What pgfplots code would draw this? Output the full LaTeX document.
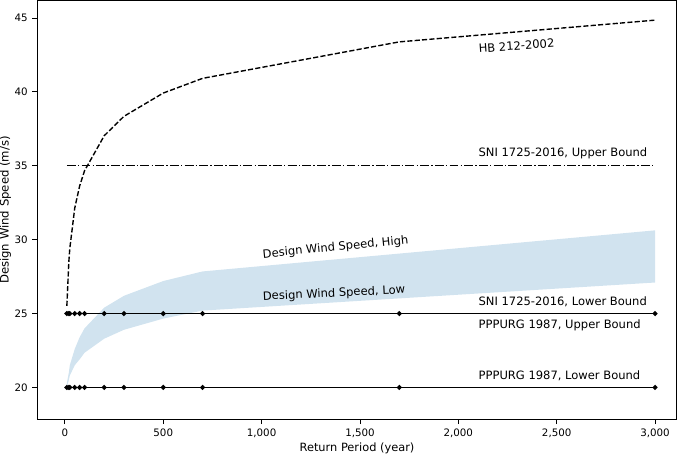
\documentclass[border=0pt]{standalone}
\usepackage{fontspec}
\setmainfont{DejaVu Sans}
\usepackage{pgfplots}
\pgfplotsset{compat=1.18}
\definecolor{band}{RGB}{209,227,239}
\begin{document}
\begin{tikzpicture}
\begin{axis}[
  anchor=south west, at={(0,0)},
  scale only axis, width=460.4pt, height=301.5pt,
  xmin=-140, xmax=3110, ymin=17.84, ymax=46.17,
  xtick={0,500,...,3000}, ytick={20,25,...,45},
  tick align=outside, xtick pos=lower, ytick pos=left,
  major tick length=3.5pt,
  tick style={black, line width=0.6pt},
  axis line style={line width=0.6pt},
  /pgf/number format/assume math mode=true,
  /pgf/number format/1000 sep={,},
  ticklabel style={font=\fontsize{7.4}{8}\selectfont},
  xlabel={Return Period (year)}, ylabel={Design Wind Speed (m/s)},
  xlabel style={font=\fontsize{8.2}{10}\selectfont, at={(axis description cs:0.5,-0.069)}, anchor=center},
  ylabel style={font=\fontsize{8.4}{10}\selectfont, at={(axis description cs:-0.050,0.5)}, anchor=center},
]
% design wind speed band (high edge, then low edge reversed)
\addplot[fill=band, draw=none] coordinates {
  (10,20.3) (20,21.0) (25,21.5) (50,22.6) (75,23.4) (100,24.0) (200,25.4)
  (300,26.2) (500,27.2) (700,27.85) (3000,30.63)
  (3000,27.1) (700,25.2) (500,24.66) (300,23.9) (200,23.3) (100,22.35)
  (75,21.9) (50,21.5) (25,20.8) (20,20.5) (10,20.0)
} -- cycle;
% HB 212-2002
\addplot[black, line width=1pt, dash pattern=on 3.7pt off 1.6pt] coordinates {
  (10,25.518) (20,28.498) (25,29.412) (50,32.131) (75,33.636) (100,34.666)
  (200,37.033) (300,38.343) (500,39.920) (700,40.915) (1700,43.384) (3000,44.854)
};
% SNI upper bound
\addplot[black, line width=1pt, dash pattern=on 6.4pt off 1.6pt on 1pt off 1.6pt] coordinates {
  (10,35) (3000,35)
};
% PPPURG upper bound
\addplot[black, line width=1.2pt] coordinates {
  (10,25) (3000,25)
};
% SNI lower bound
\addplot[black, line width=1.2pt, mark=*, mark size=1.1pt] coordinates {
  (10,25) (20,25) (25,25) (50,25) (75,25) (100,25) (200,25) (300,25)
  (500,25) (700,25) (1700,25) (3000,25)
};
% PPPURG lower bound
\addplot[black, line width=1.2pt, mark=*, mark size=1.1pt] coordinates {
  (10,20) (20,20) (25,20) (50,20) (75,20) (100,20) (200,20) (300,20)
  (500,20) (700,20) (1700,20) (3000,20)
};
\begin{scope}[every node/.style={font=\fontsize{8.3}{10}\selectfont, inner sep=0pt}]
\node[rotate=4] at (axis cs:2296,43.11) {HB 212-2002};
\node[anchor=west] at (axis cs:2102,35.83) {SNI 1725-2016, Upper Bound};
\node[rotate=5.7] at (axis cs:1376,29.46) {Design Wind Speed, High};
\node[rotate=2.8] at (axis cs:1368,26.35) {Design Wind Speed, Low};
\node[anchor=west] at (axis cs:2102,25.78) {SNI 1725-2016, Lower Bound};
\node[anchor=west] at (axis cs:2102,24.19) {PPPURG 1987, Upper Bound};
\node[anchor=west] at (axis cs:2102,20.78) {PPPURG 1987, Lower Bound};
\end{scope}
\end{axis}
\pgfresetboundingbox
\path[use as bounding box] (-26.9pt,-25.7pt) rectangle (466.4pt,302pt);
\end{tikzpicture}
\end{document}
